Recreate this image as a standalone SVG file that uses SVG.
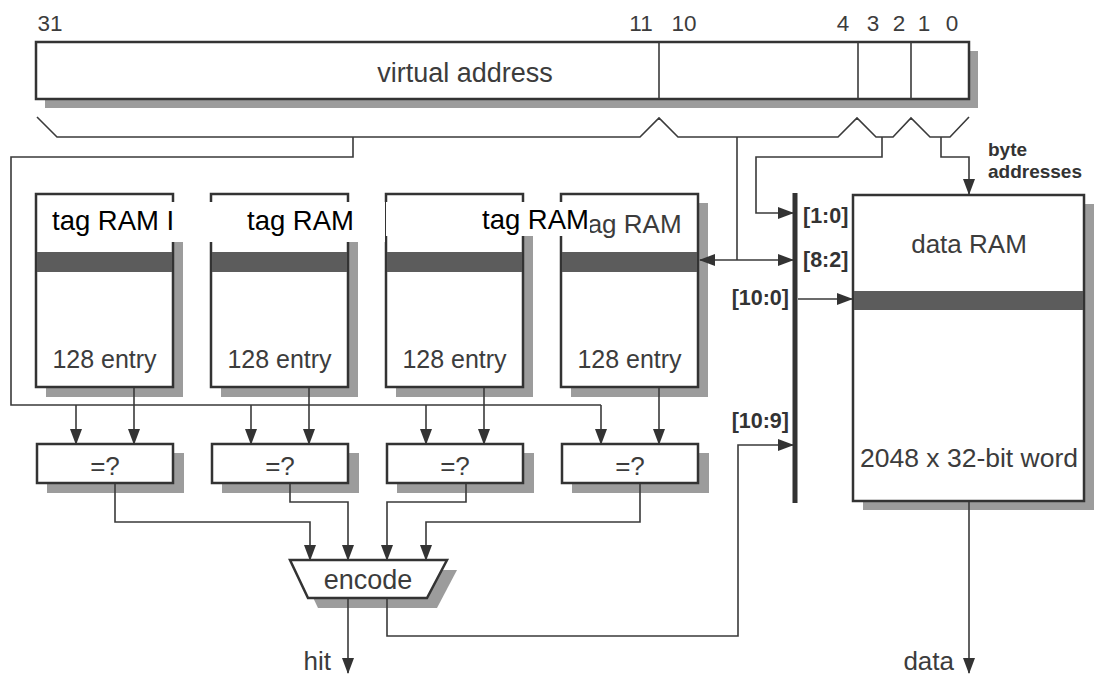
<svg xmlns="http://www.w3.org/2000/svg" width="1096" height="675" viewBox="0 0 1096 675">
<defs>
<style>
.box{fill:#fff;stroke:#333;stroke-width:2.5}
.shd{fill:#9c9c9c}
.band{fill:#5c5c5c}
.ln{fill:none;stroke:#3a3a3a;stroke-width:1.6}
.t{font-family:"Liberation Sans",Arial,sans-serif;fill:#3c3c3c}
.lbl{font-family:"Liberation Sans",Arial,sans-serif;fill:#333;font-weight:bold;font-size:21.5px}
.ba{font-family:"Liberation Sans",Arial,sans-serif;fill:#333;font-weight:bold;font-size:19px}
.ocr{font-family:"Liberation Sans",Arial,sans-serif;fill:#000;font-size:27.5px}
</style>
<marker id="ah" markerUnits="userSpaceOnUse" markerWidth="16" markerHeight="12" refX="15" refY="6" orient="auto-start-reverse">
<path d="M0,0 L16,6 L0,12 z" fill="#333"/>
</marker>
</defs>
<rect width="1096" height="675" fill="#fff"/>

<g id="virtual-address">
<rect class="shd" x="45" y="51" width="933" height="57"/>
<rect class="box" x="36" y="42" width="933" height="57"/>
<line class="ln" x1="659" y1="42" x2="659" y2="99" stroke-width="2"/>
<line class="ln" x1="858" y1="42" x2="858" y2="99" stroke-width="2"/>
<line class="ln" x1="911" y1="42" x2="911" y2="99" stroke-width="2"/>
<text class="t" x="465" y="82" font-size="27" text-anchor="middle">virtual address</text>
<g class="t" font-size="22.5" text-anchor="middle">
<text x="50" y="31">31</text>
<text x="641" y="31">11</text>
<text x="684" y="31">10</text>
<text x="843" y="31">4</text>
<text x="873" y="31">3</text>
<text x="899" y="31">2</text>
<text x="924" y="31">1</text>
<text x="952" y="31">0</text>
</g>
</g>

<g id="tag-ram-1">
<rect class="shd" x="46" y="203" width="137" height="194"/>
<rect class="box" x="36" y="194" width="137" height="193"/>
<rect class="band" x="37" y="252" width="135" height="20"/>
<text class="t" x="104.5" y="368" font-size="25" text-anchor="middle">128 entry</text>
</g>
<g id="tag-ram-2">
<rect class="shd" x="221" y="203" width="137" height="194"/>
<rect class="box" x="211" y="194" width="137" height="193"/>
<rect class="band" x="212" y="252" width="135" height="20"/>
<text class="t" x="279.5" y="368" font-size="25" text-anchor="middle">128 entry</text>
</g>
<g id="tag-ram-3">
<rect class="shd" x="396" y="203" width="137" height="194"/>
<rect class="box" x="386" y="194" width="137" height="193"/>
<rect class="band" x="387" y="252" width="135" height="20"/>
<text class="t" x="454.5" y="368" font-size="25" text-anchor="middle">128 entry</text>
</g>
<g id="tag-ram-4">
<rect class="shd" x="571" y="203" width="137" height="194"/>
<rect class="box" x="561" y="194" width="137" height="193"/>
<rect class="band" x="562" y="252" width="135" height="20"/>
<text class="t" x="631" y="233" font-size="26" text-anchor="middle">tag RAM</text>
<text class="t" x="629.5" y="368" font-size="25" text-anchor="middle">128 entry</text>
</g>

<g id="cmp-1">
<rect class="shd" x="47" y="453" width="137" height="40"/>
<rect class="box" x="37" y="444" width="136" height="39"/>
<text class="t" x="105" y="475" font-size="26" text-anchor="middle">=?</text>
</g>
<g id="cmp-2">
<rect class="shd" x="222" y="453" width="137" height="40"/>
<rect class="box" x="212" y="444" width="136" height="39"/>
<text class="t" x="280" y="475" font-size="26" text-anchor="middle">=?</text>
</g>
<g id="cmp-3">
<rect class="shd" x="397" y="453" width="137" height="40"/>
<rect class="box" x="387" y="444" width="136" height="39"/>
<text class="t" x="455" y="475" font-size="26" text-anchor="middle">=?</text>
</g>
<g id="cmp-4">
<rect class="shd" x="572" y="453" width="137" height="40"/>
<rect class="box" x="562" y="444" width="136" height="39"/>
<text class="t" x="630" y="475" font-size="26" text-anchor="middle">=?</text>
</g>

<g id="encode">
<polygon class="shd" points="300,570 457,570 437,608 318,608"/>
<polygon class="box" points="290,560 447,560 427,598 308,598"/>
<text class="t" x="368" y="589" font-size="27" text-anchor="middle">encode</text>
</g>

<g id="data-ram">
<rect class="shd" x="863" y="204" width="231" height="306"/>
<rect class="box" x="853" y="195" width="231" height="306"/>
<rect class="band" x="854" y="291" width="229" height="19"/>
<text class="t" x="969" y="253" font-size="26" text-anchor="middle">data RAM</text>
<text class="t" x="969" y="467" font-size="26.5" text-anchor="middle">2048 x 32-bit word</text>
</g>

<g id="bus">
<line x1="795" y1="193" x2="795" y2="503" stroke="#333" stroke-width="5"/>
<text class="lbl" x="803" y="223">[1:0]</text>
<text class="lbl" x="803" y="267">[8:2]</text>
<text class="lbl" x="789" y="305" text-anchor="end">[10:0]</text>
<text class="lbl" x="789" y="428" text-anchor="end">[10:9]</text>
</g>

<g id="connectors">
<polyline class="ln" points="37,117 57,137 640,137 659,118 678,137 838,137 857,118 876,137 893,137 911,118 930,137 950,137 969,117"/>
<polyline class="ln" points="353,137 353,157 11,157 11,405 601,405"/>
<line class="ln" x1="76" y1="405" x2="76" y2="444" marker-end="url(#ah)"/>
<line class="ln" x1="251" y1="405" x2="251" y2="444" marker-end="url(#ah)"/>
<line class="ln" x1="426" y1="405" x2="426" y2="444" marker-end="url(#ah)"/>
<line class="ln" x1="601" y1="405" x2="601" y2="444" marker-end="url(#ah)"/>
<line class="ln" x1="134" y1="388" x2="134" y2="444" marker-end="url(#ah)"/>
<line class="ln" x1="309" y1="388" x2="309" y2="444" marker-end="url(#ah)"/>
<line class="ln" x1="484" y1="388" x2="484" y2="444" marker-end="url(#ah)"/>
<line class="ln" x1="659" y1="388" x2="659" y2="444" marker-end="url(#ah)"/>
<polyline class="ln" points="115,484 115,522 310,522 310,560" marker-end="url(#ah)"/>
<polyline class="ln" points="290,484 290,502 348,502 348,560" marker-end="url(#ah)"/>
<polyline class="ln" points="466,484 466,502 387,502 387,560" marker-end="url(#ah)"/>
<polyline class="ln" points="640,484 640,522 426,522 426,560" marker-end="url(#ah)"/>
<line class="ln" x1="348" y1="599" x2="348" y2="673" marker-end="url(#ah)"/>
<polyline class="ln" points="387,599 387,636 738,636 738,445 793,445" marker-end="url(#ah)"/>
<line class="ln" x1="737" y1="137" x2="737" y2="260"/>
<line class="ln" x1="700" y1="260" x2="793" y2="260" marker-start="url(#ah)" marker-end="url(#ah)"/>
<polyline class="ln" points="882,137 882,157 756,157 756,213 793,213" marker-end="url(#ah)"/>
<polyline class="ln" points="941,137 941,157 969,157 969,194" marker-end="url(#ah)"/>
<line class="ln" x1="798" y1="299" x2="852" y2="299" marker-end="url(#ah)"/>
<line class="ln" x1="969" y1="502" x2="969" y2="673" marker-end="url(#ah)"/>
</g>

<g id="outside-labels">
<text class="t" x="331" y="670" font-size="26" text-anchor="end">hit</text>
<text class="t" x="954" y="670" font-size="26" text-anchor="end">data</text>
<text class="ba" x="988" y="156">byte</text>
<text class="ba" x="988" y="178">addresses</text>
</g>

<g id="ocr-overlay">
<rect x="43" y="202" width="342" height="40" fill="#fff"/>
<rect x="386" y="202" width="204" height="34" fill="#fff"/>
<text class="ocr" x="52" y="230">tag RAM I</text>
<text class="ocr" x="247" y="230">tag RAM</text>
<text class="ocr" x="482" y="229">tag RAM</text>
</g>
</svg>
